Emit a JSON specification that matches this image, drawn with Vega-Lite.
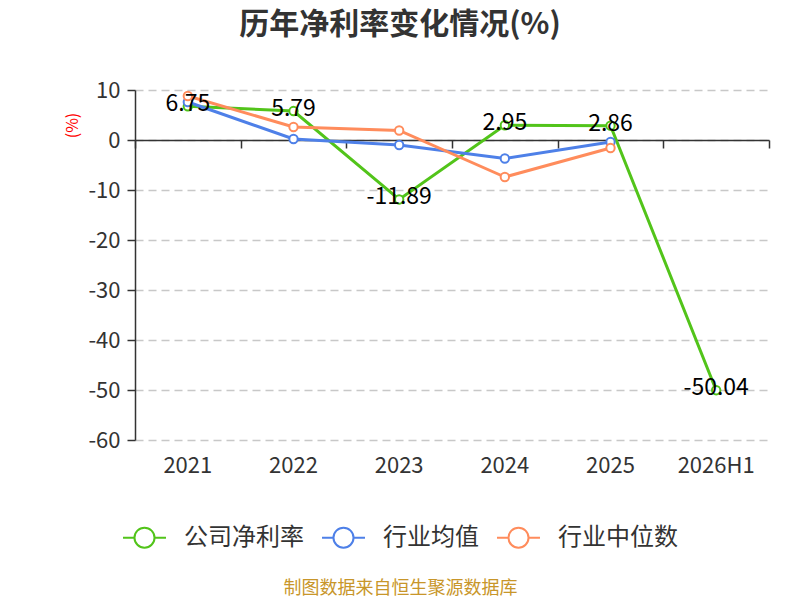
{
  "$schema": "https://vega.github.io/schema/vega-lite/v6.json",
  "autosize": "none",
  "width": 634,
  "height": 350,
  "padding": {"left": 135, "top": 90, "right": 31, "bottom": 160},
  "background": "white",
  "title": {
    "text": "历年净利率变化情况(%)",
    "fontSize": 30,
    "fontWeight": "bold",
    "color": "#333333",
    "anchor": "middle",
    "frame": "group",
    "dx": -52,
    "offset": 39
  },
  "data": {
    "values": [
      {"year": "2021", "series": "公司净利率", "value": 6.75},
      {"year": "2022", "series": "公司净利率", "value": 5.79},
      {"year": "2023", "series": "公司净利率", "value": -11.89},
      {"year": "2024", "series": "公司净利率", "value": 2.95},
      {"year": "2025", "series": "公司净利率", "value": 2.86},
      {"year": "2026H1", "series": "公司净利率", "value": -50.04},
      {"year": "2021", "series": "行业均值", "value": 7.6},
      {"year": "2022", "series": "行业均值", "value": 0.2},
      {"year": "2023", "series": "行业均值", "value": -1.0},
      {"year": "2024", "series": "行业均值", "value": -3.7},
      {"year": "2025", "series": "行业均值", "value": -0.4},
      {"year": "2021", "series": "行业中位数", "value": 8.8},
      {"year": "2022", "series": "行业中位数", "value": 2.6},
      {"year": "2023", "series": "行业中位数", "value": 1.9},
      {"year": "2024", "series": "行业中位数", "value": -7.4},
      {"year": "2025", "series": "行业中位数", "value": -1.6}
    ]
  },
  "encoding": {
    "x": {
      "field": "year",
      "type": "nominal",
      "bandPosition": 0.5,
      "scale": {"type": "band", "paddingInner": 0, "paddingOuter": 0},
      "axis": null
    },
    "y": {
      "field": "value",
      "type": "quantitative",
      "scale": {"domain": [-60, 10], "nice": false, "zero": false},
      "axis": {
        "values": [-60, -50, -40, -30, -20, -10, 0, 10],
        "grid": true,
        "gridDash": [8, 5],
        "gridColor": "#c8c8c8",
        "gridWidth": 1.5,
        "domainColor": "#333333",
        "domainWidth": 1.5,
        "tickColor": "#333333",
        "tickWidth": 1.5,
        "tickSize": 8,
        "labelFontSize": 22,
        "labelColor": "#333333",
        "labelPadding": 7,
        "title": "(%)",
        "titleColor": "red",
        "titleFontSize": 16,
        "titleFontWeight": "normal",
        "titleAngle": -90,
        "titleAlign": "center",
        "titleBaseline": "middle",
        "titleX": -63,
        "titleY": 35
      }
    }
  },
  "layer": [
    {
      "mark": {"type": "line", "strokeWidth": 3},
      "encoding": {
        "x": {
          "field": "year",
          "type": "nominal",
          "bandPosition": 0.5,
          "axis": {
            "orient": "bottom",
            "domain": false,
            "ticks": false,
            "grid": false,
            "labelAngle": 0,
            "labelFontSize": 22,
            "labelColor": "#333333",
            "labelPadding": 15,
            "title": "制图数据来自恒生聚源数据库",
            "titleColor": "#c8962a",
            "titleFontSize": 18,
            "titleFontWeight": "normal",
            "titleAlign": "center",
            "titleBaseline": "middle",
            "titleX": 265,
            "titleY": 148
          }
        },
        "color": {
          "field": "series",
          "type": "nominal",
          "scale": {
            "domain": ["公司净利率", "行业均值", "行业中位数"],
            "range": ["#52c41a", "#4e80e8", "#ff8c5c"]
          },
          "legend": {
            "orient": "none",
            "legendX": -6,
            "legendY": 432,
            "direction": "horizontal",
            "title": null,
            "symbolType": "M-1.5,0L-0.7,0M0.7,0A0.7,0.7,0,1,1,-0.7,0A0.7,0.7,0,1,1,0.7,0M0.7,0L1.5,0",
            "symbolSize": 820,
            "symbolStrokeWidth": 2,
            "symbolFillColor": "white",
            "labelFontSize": 24,
            "labelColor": "#333333",
            "labelOffset": 24,
            "columnPadding": 14
          }
        }
      }
    },
    {
      "mark": {"type": "point", "filled": false, "fill": "white", "size": 70, "strokeWidth": 2, "opacity": 1},
      "encoding": {
        "x": {
          "field": "year",
          "type": "nominal",
          "bandPosition": 0.5,
          "axis": {
            "orient": "top",
            "offset": -50,
            "labels": false,
            "domain": true,
            "domainColor": "#333333",
            "domainWidth": 1.5,
            "ticks": true,
            "tickSize": -8,
            "tickColor": "#333333",
            "tickWidth": 1.5,
            "tickBand": "extent",
            "grid": false,
            "title": null
          }
        },
        "color": {"field": "series", "type": "nominal"}
      }
    },
    {
      "transform": [{"filter": "datum.series === '公司净利率'"}],
      "mark": {"type": "text", "fontSize": 23, "color": "black", "baseline": "middle", "dy": -2},
      "encoding": {
        "text": {"field": "value", "type": "quantitative", "format": ".2f"}
      }
    }
  ],
  "resolve": {"axis": {"x": "independent"}},
  "config": {
    "font": "Noto Sans CJK SC",
    "view": {"stroke": null},
    "locale": {
      "number": {
        "decimal": ".",
        "thousands": ",",
        "grouping": [3],
        "currency": ["$", ""],
        "minus": "-"
      }
    }
  }
}
